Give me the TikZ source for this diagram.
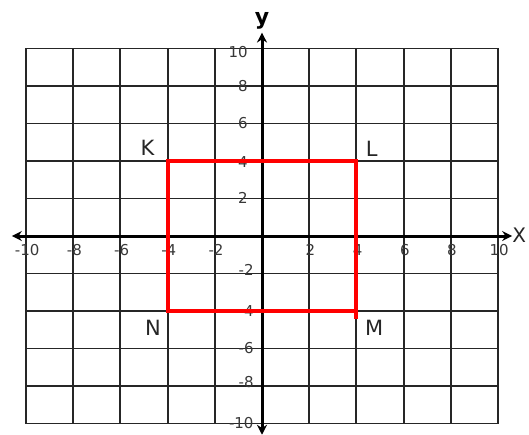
\documentclass[tikz,border=0pt]{standalone}
\usepackage{fontspec}
\setmainfont{DejaVu Sans}
\usetikzlibrary{arrows.meta}
\begin{document}
\begin{tikzpicture}[x=23.6pt,y=18.75pt,
  gridline/.style={line width=1.9pt, draw=black!85},
  axisline/.style={line width=3pt, draw=black, {Stealth[length=10pt,width=10pt]}-{Stealth[length=10pt,width=10pt]}},
  ticklbl/.style={font=\fontsize{15}{15}\selectfont, text=black!78, inner sep=0pt},
  ptlbl/.style={font=\fontsize{21}{21}\selectfont, text=black!85, inner sep=0pt},
  redrect/.style={draw=red, line width=4pt, line join=miter}]
\useasboundingbox (-262pt,-198pt) rectangle (267pt,236pt);
\draw[gridline] (-10,-10) grid[xstep=2,ystep=2] (10,10);
% tick labels
\foreach \v in {-10,-8,-6,-4,-2,2,4,6,8,10}{
  \node[ticklbl] (x\v) at (\v+0.05,-0.75) {\v};
}
\foreach \v/\p in {10/9.8,8/8,6/6,4/3.95,2/2.05}{
  \node[ticklbl, anchor=east] (yp\v) at (-0.6,\p) {\v};
}
\foreach \v/\p in {2/-1.8,4/-4,6/-5.95,8/-7.8,10/-9.95}{
  \node[ticklbl, anchor=east] (yn\v) at (-0.35,\p) {-\v};
}
% axes
\coordinate (xl) at (-10.6,0);
\coordinate (xr) at (10.6,0);
\coordinate (yt) at (0,10.85);
\coordinate (yb) at (0,-10.6);
\draw[axisline] (xl) -- (xr);
\draw[axisline] (yb) -- (yt);
\node[font=\bfseries\fontsize{22}{22}\selectfont, inner sep=0pt] (ylab) at (0,11.45) {y};
\node[font=\fontsize{20}{20}\selectfont, text=black!85, inner sep=0pt, anchor=west] (xlab) at (10.6,0.05) {X};
% rectangle
\coordinate (K) at (-4,4);
\coordinate (L) at (4,4);
\coordinate (M) at (4,-4);
\coordinate (N) at (-4,-4);
\coordinate (Mx) at (4,-4.45);
\draw[redrect] (K) -- (L) -- (M) -- (N) -- cycle;
\draw[draw=red, line width=4pt] (M) -- (Mx);
\node[ptlbl] (lK) at (-4.85,4.69) {K};
\node[ptlbl] (lL) at (4.65,4.66) {L};
\node[ptlbl] (lN) at (-4.62,-4.9) {N};
\node[ptlbl] (lM) at (4.75,-4.9) {M};
\end{tikzpicture}
\end{document}
